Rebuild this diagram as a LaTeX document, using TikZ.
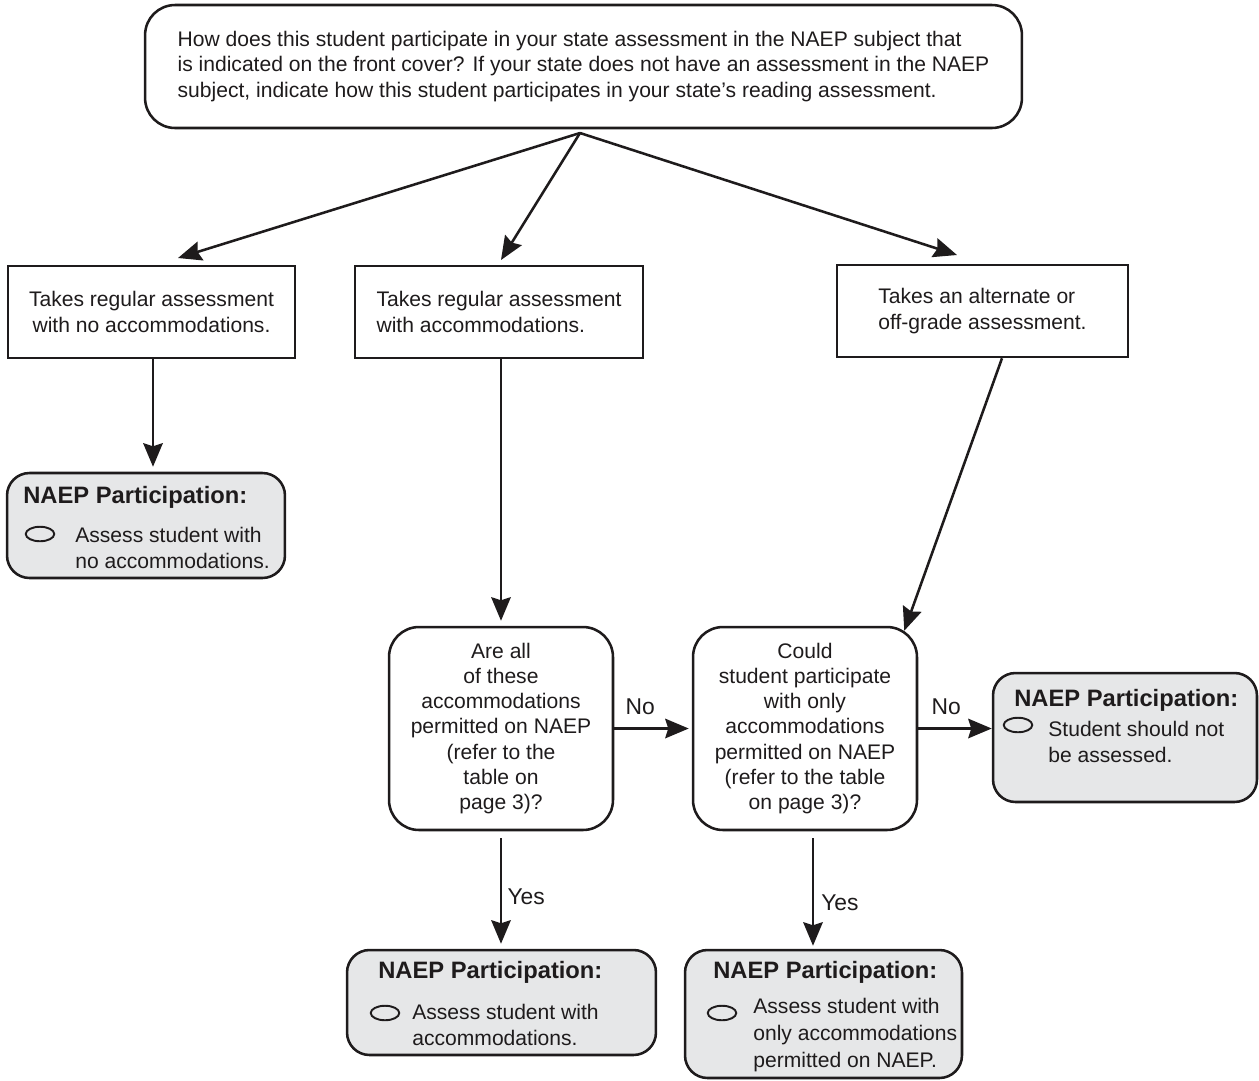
\documentclass[tikz,border=0pt]{standalone}
\usepackage{fontspec}
\setmainfont{Liberation Sans}
\usetikzlibrary{arrows.meta,shapes.geometric,calc}
\definecolor{boxgray}{RGB}{230,231,232}
\definecolor{ink}{RGB}{30,27,28}
\begin{document}
\begin{tikzpicture}[x=0.02cm,y=-0.02cm,
  txt/.style={font=\fontsize{12}{14.4}\selectfont, text=ink, inner sep=0pt},
  plain/.style={draw=ink, line width=1.45pt, inner sep=0pt, txt},
  rbox/.style={plain, rounded corners=0.6cm},
  nbox/.style={draw=ink, line width=1.45pt, fill=boxgray, rounded corners=0.45cm, inner sep=0pt},
  head/.style={font=\fontsize{13.5}{16}\selectfont\bfseries, text=ink, inner sep=0pt, anchor=west},
  oval/.style={draw=ink, ellipse, line width=1.1pt, minimum width=0.57cm, minimum height=0.29cm, inner sep=0pt},
  body/.style={font=\fontsize{12}{15.3}\selectfont, text=ink, inner sep=0pt, align=left, anchor=west},
  arr/.style={draw=ink, line width=1.45pt, -{Stealth[length=0.47cm,width=0.39cm,inset=0.06cm]}},
  lab/.style={font=\fontsize{13}{15}\selectfont, text=ink, inner sep=0pt}]
\useasboundingbox (0,0) rectangle (1259,1080);

% top question
\node[rbox, minimum width=17.54cm, minimum height=2.46cm, align=left] (top) at (583.5,66.5)
 {How does this student participate in your state assessment in the NAEP subject that\\
  is indicated on the front cover? If your state does not have an assessment in the NAEP\\
  subject, indicate how this student participates in your state’s reading assessment.};

% three options
\node[plain, minimum width=5.74cm, minimum height=1.84cm, align=center] (opt1) at (151.5,312)
 {Takes regular assessment\\with no accommodations.};
\node[plain, minimum width=5.76cm, minimum height=1.84cm, align=left] (opt2) at (499,312)
 {Takes regular assessment\\with accommodations.};
\node[plain, minimum width=5.82cm, minimum height=1.84cm, align=left] (opt3) at (982.5,311)
 {Takes an alternate or\\off-grade assessment.};

% questions
\node[rbox, minimum width=4.48cm, minimum height=4.06cm, align=center] (q1) at (501,728.5)
 {Are all\\of these\\accommodations\\permitted on NAEP\\(refer to the\\table on\\page 3)?};
\node[rbox, minimum width=4.48cm, minimum height=4.06cm, align=center] (q2) at (805,728.5)
 {Could\\student participate\\with only\\accommodations\\permitted on NAEP\\(refer to the table\\on page 3)?};

% NAEP participation boxes
\node[nbox, minimum width=5.56cm, minimum height=2.10cm] (n1) at (146,525.5) {};
\node[head] (n1h) at (23,497) {NAEP Participation:};
\node[oval] (n1o) at (40,534) {};
\node[body] (n1t) at (75,548) {Assess student with\\no accommodations.};

\node[nbox, minimum width=5.28cm, minimum height=2.58cm] (n2) at (1125,737.5) {};
\node[head] (n2h) at (1014,700) {NAEP Participation:};
\node[oval] (n2o) at (1018,725) {};
\node[body] (n2t) at (1048,742) {Student should not\\be assessed.};

\node[nbox, minimum width=6.18cm, minimum height=2.10cm] (n3) at (501.5,1002.5) {};
\node[head] (n3h) at (378,972) {NAEP Participation:};
\node[oval] (n3o) at (385,1013) {};
\node[body] (n3t) at (412,1025) {Assess student with\\accommodations.};

\node[nbox, minimum width=5.54cm, minimum height=2.56cm] (n4) at (823.5,1014) {};
\node[head] (n4h) at (713,972) {NAEP Participation:};
\node[oval] (n4o) at (722,1013) {};
\node[body] (n4t) at (753,1035) {Assess student with\\only accommodations\\permitted on NAEP.};

% connector ends
\coordinate (fork) at (580,133);
\coordinate (t1) at (178,258);
\coordinate (t2) at (501,260);
\coordinate (t3) at (957,255);

\draw[arr] (fork) -- (t1);
\draw[arr] (fork) -- (t2);
\draw[arr] (fork) -- (t3);

\draw[arr] (opt1.south -| 153,0) -- ($(n1.north -| 153,0)+(0,-5)$);
\draw[arr] (opt2.south -| 501,0) -- ($(q1.north -| 501,0)+(0,-5)$);
\draw[arr] ($(opt3.south)+(19.5,0)$) -- ($(q2.north east)+(-14,5)$);

\draw[arr] (q1.east) -- ($(q2.west)+(-3,0)$) node[lab, pos=0.35, above=7pt] (no1) {No};
\draw[arr] (q2.east) -- (n2.west |- q2.east) node[lab, pos=0.38, above=7pt] (no2) {No};

\draw[arr] ($(q1.south -| 501,0)+(0,7)$) -- ($(n3.north -| 501,0)+(0,-5)$) node[lab, pos=0.55, right=3pt] (yes1) {Yes};
\draw[arr] ($(q2.south -| 813,0)+(0,7)$) -- ($(n4.north -| 813,0)+(0,-3)$) node[lab, pos=0.6, right=4pt] (yes2) {Yes};
\end{tikzpicture}
\end{document}
